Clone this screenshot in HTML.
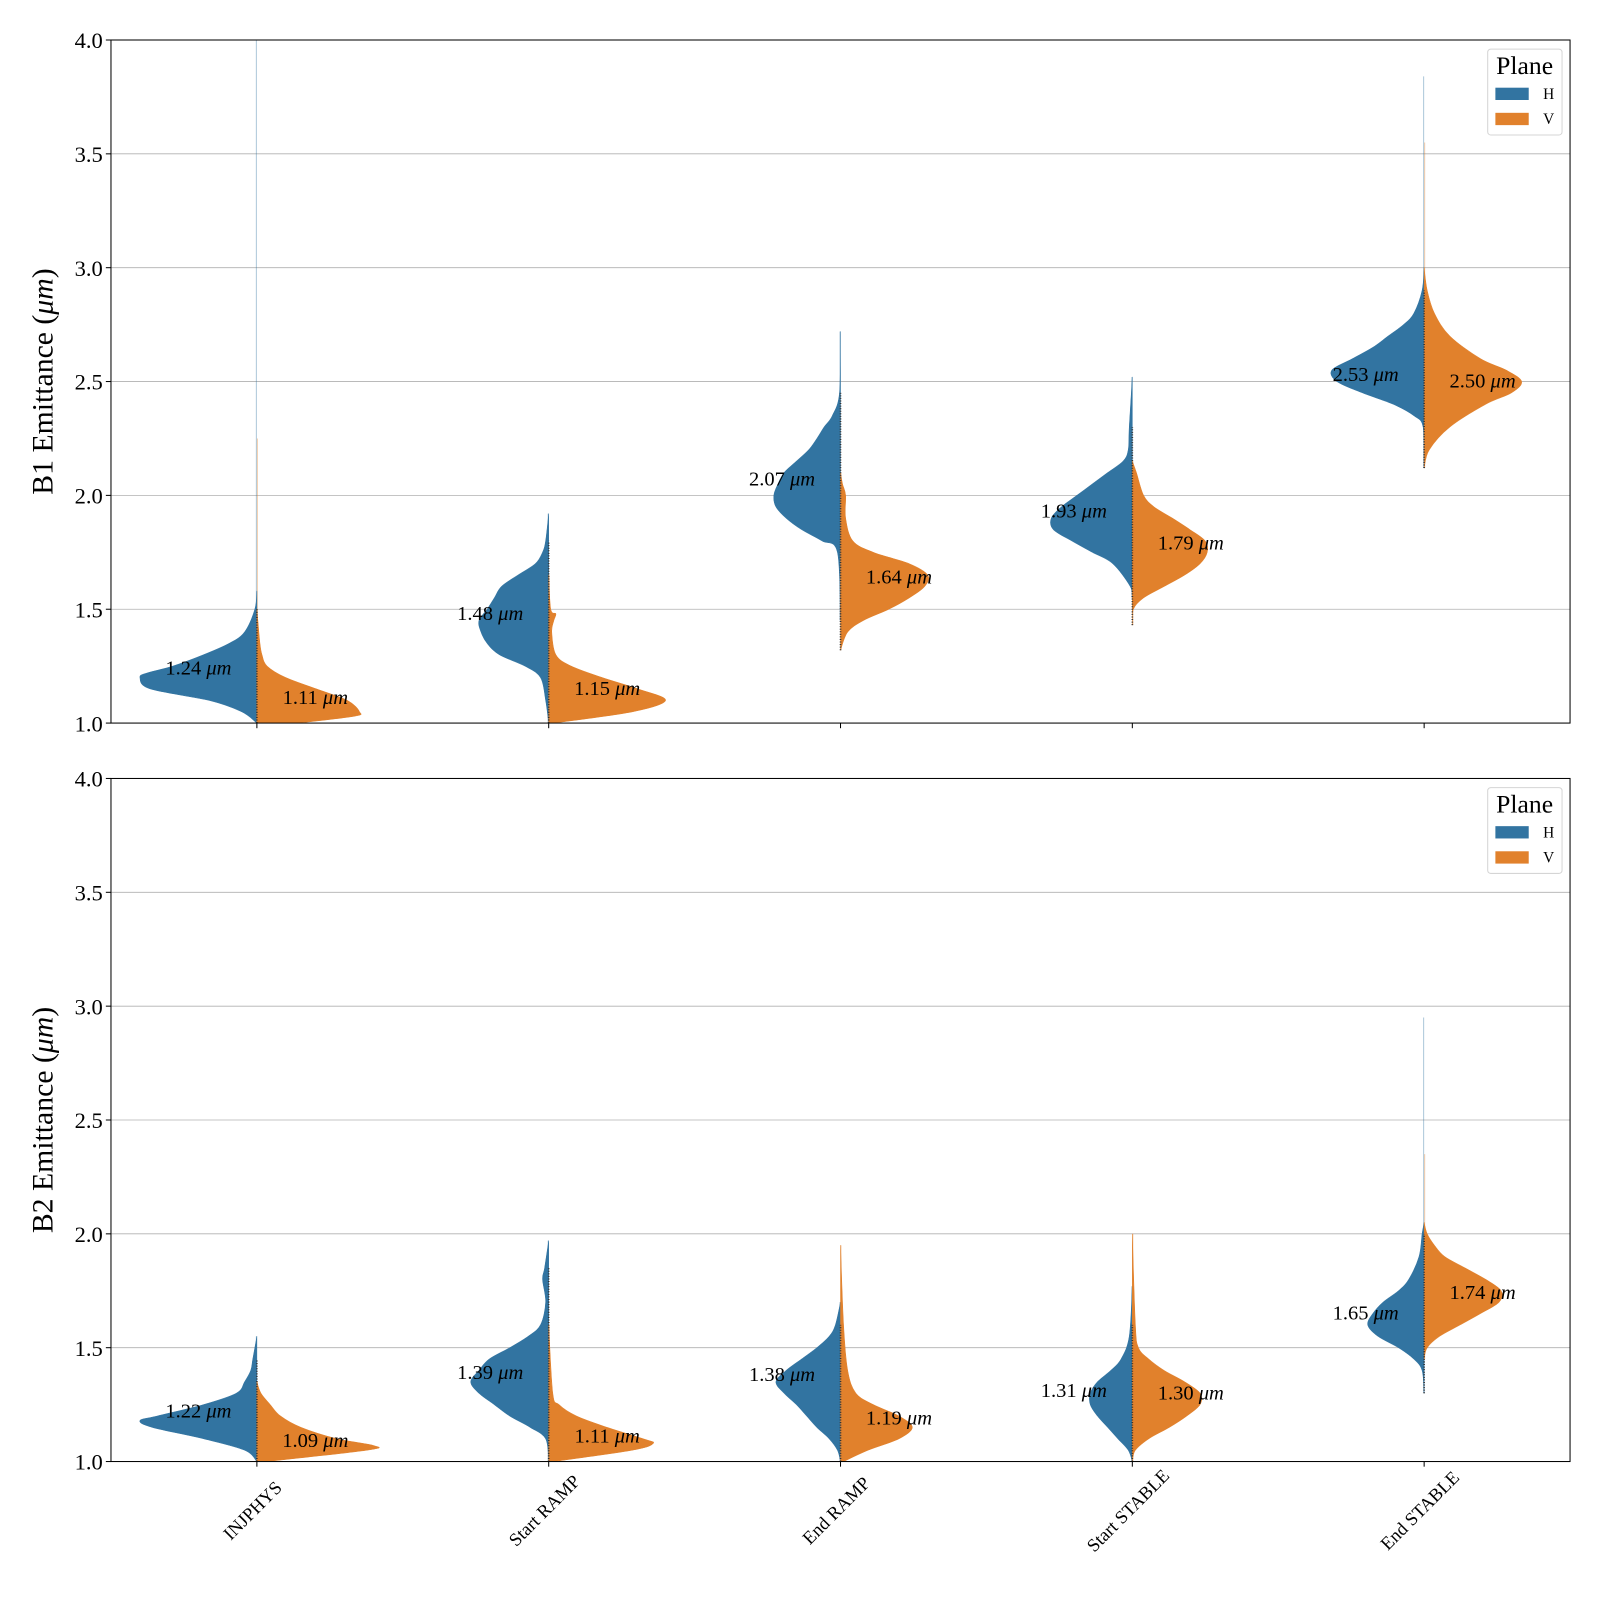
<!DOCTYPE html>
<html><head><meta charset="utf-8"><style>
html,body{margin:0;padding:0;background:#fff}
svg{display:block;font-family:"Liberation Serif",serif}
</style></head><body>
<svg id="chart" width="1600" height="1600" viewBox="0 0 1560 1560" xmlns="http://www.w3.org/2000/svg"></svg>
<script>
const categories = ["INJPHYS","Start RAMP","End RAMP","Start STABLE","End STABLE"];
const panelTitles = ["B1 Emittance (μm)","B2 Emittance (μm)"];
const yTicks = [1.0,1.5,2.0,2.5,3.0,3.5,4.0];
// mean labels [panel][category]
const meanH = [[1.24,1.48,2.07,1.93,2.53],[1.22,1.39,1.38,1.31,1.65]];
const meanV = [[1.11,1.15,1.64,1.79,2.50],[1.09,1.11,1.19,1.30,1.74]];
// density profiles: [value, density(0-120)]
const densH = [
 [
  [[1.0,0],[1.05,15],[1.1,47],[1.15,104],[1.2,114],[1.22,107],[1.25,82],[1.3,52],[1.35,27],[1.4,12],[1.5,2],[1.58,0]],
  [[1.0,0],[1.1,3],[1.2,8],[1.25,23],[1.3,48],[1.35,60],[1.4,66],[1.45,68],[1.5,60],[1.55,53],[1.6,46],[1.65,30],[1.7,13],[1.75,6],[1.8,3],[1.92,0]],
  [[1.45,0],[1.75,3],[1.8,18],[1.85,38],[1.9,53],[1.95,63],[2.0,65],[2.05,61],[2.1,55],[2.15,43],[2.2,31],[2.25,23],[2.3,16],[2.35,8],[2.45,1],[2.72,0]],
  [[1.55,0],[1.6,2],[1.7,19],[1.75,39],[1.8,59],[1.85,77],[1.9,79],[1.95,69],[2.0,54],[2.05,39],[2.1,24],[2.15,9],[2.2,4],[2.3,3],[2.52,0]],
  [[2.12,0],[2.3,1],[2.35,10],[2.4,30],[2.45,60],[2.5,85],[2.55,90],[2.6,70],[2.65,50],[2.7,35],[2.75,20],[2.8,10],[2.9,2],[3.0,0]]
 ],
 [
  [[1.0,0],[1.05,12],[1.1,52],[1.15,102],[1.18,114],[1.2,97],[1.25,52],[1.3,20],[1.35,12],[1.4,6],[1.45,4],[1.55,0]],
  [[1.0,0],[1.1,3],[1.15,18],[1.2,38],[1.25,53],[1.3,68],[1.35,76],[1.4,68],[1.45,58],[1.5,38],[1.55,20],[1.6,8],[1.7,3],[1.8,6],[1.85,4],[1.97,0]],
  [[1.0,0],[1.05,3],[1.1,11],[1.15,23],[1.2,33],[1.25,43],[1.3,55],[1.35,63],[1.4,53],[1.45,38],[1.5,23],[1.55,11],[1.6,5],[1.7,0]],
  [[1.0,0],[1.05,4],[1.1,14],[1.15,24],[1.2,34],[1.25,41],[1.3,41],[1.35,34],[1.4,21],[1.45,11],[1.55,3],[1.77,0]],
  [[1.3,0],[1.4,2],[1.45,10],[1.5,25],[1.55,45],[1.6,55],[1.65,50],[1.7,40],[1.75,25],[1.8,15],[1.9,5],[2.0,2],[2.05,0]]
 ]
];
const densV = [
 [
  [[1.0,40],[1.03,95],[1.05,100],[1.1,88],[1.15,58],[1.2,28],[1.25,10],[1.3,5],[1.35,3],[1.45,1],[1.5,0]],
  [[1.0,5],[1.05,82],[1.1,114],[1.15,87],[1.2,52],[1.25,22],[1.3,7],[1.4,3],[1.45,5],[1.48,7],[1.5,2],[1.65,0]],
  [[1.32,0],[1.4,7],[1.45,22],[1.5,47],[1.55,67],[1.6,82],[1.65,85],[1.7,67],[1.75,32],[1.8,12],[1.9,5],[2.0,5],[2.05,2],[2.1,0]],
  [[1.43,0],[1.5,1],[1.55,11],[1.6,31],[1.65,51],[1.7,66],[1.75,73],[1.8,71],[1.85,56],[1.9,39],[1.95,21],[2.0,11],[2.1,4],[2.15,0]],
  [[2.12,0],[2.2,5],[2.3,25],[2.4,60],[2.45,85],[2.5,95],[2.55,80],[2.6,55],[2.7,25],[2.8,10],[2.9,3],[3.0,0]]
 ],
 [
  [[1.0,10],[1.05,108],[1.07,114],[1.1,78],[1.15,43],[1.2,23],[1.25,13],[1.3,4],[1.35,0]],
  [[1.0,5],[1.05,82],[1.08,102],[1.1,92],[1.15,57],[1.2,27],[1.25,10],[1.3,4],[1.6,0]],
  [[1.0,3],[1.05,27],[1.1,57],[1.15,70],[1.2,57],[1.25,32],[1.3,15],[1.4,7],[1.6,3],[1.95,0]],
  [[1.0,0],[1.05,3],[1.1,16],[1.15,36],[1.2,53],[1.25,66],[1.3,66],[1.35,51],[1.4,31],[1.45,16],[1.5,6],[1.6,3],[2.0,0]],
  [[1.45,0],[1.5,3],[1.55,15],[1.6,35],[1.65,55],[1.7,73],[1.75,75],[1.8,60],[1.85,40],[1.9,20],[1.95,10],[2.0,3],[2.05,0]]
 ]
];
const tailMaxH = [[4.0,1.92,2.72,2.52,3.84],[1.55,1.97,1.7,1.77,2.95]];
const tailMaxV = [[2.25,1.65,2.1,2.15,3.55],[1.35,1.6,1.95,2.0,2.35]];

const svg = document.getElementById('chart');
const NS = 'http://www.w3.org/2000/svg';
const L = 108.2, R = 1530.8;
const panels = [{top:39,bottom:705},{top:759,bottom:1425}];
const BLUE = '#3274a1', ORANGE = '#e1812c';
function mk(tag, attrs, parent){ const e=document.createElementNS(NS,tag); for(const k in attrs) e.setAttribute(k,attrs[k]); (parent||svg).appendChild(e); return e; }
function xScale(i){ return L + (R-L)/categories.length*(i+0.5); }
function yScaleFor(p){ return v => p.bottom - (v-1.0)/(4.0-1.0)*(p.bottom-p.top); }
const densPx = 1.0;
function smoothPath(pts){
  // Catmull-Rom through pts (array of [x,y]) -> cubic bezier segments
  let d = '';
  for (let k=0;k<pts.length-1;k++){
    const p0=pts[Math.max(k-1,0)], p1=pts[k], p2=pts[k+1], p3=pts[Math.min(k+2,pts.length-1)];
    const c1=[p1[0]+(p2[0]-p0[0])/6, p1[1]+(p2[1]-p0[1])/6];
    const c2=[p2[0]-(p3[0]-p1[0])/6, p2[1]-(p3[1]-p1[1])/6];
    d += ` C${c1[0]},${c1[1]} ${c2[0]},${c2[1]} ${p2[0]},${p2[1]}`;
  }
  return d;
}

panels.forEach((p, pi) => {
  const y = yScaleFor(p);
  const g = mk('g', {});
  
  
  yTicks.forEach(t => {
    const gl = mk('line', {x1:L, x2:R, y1:y(t), y2:y(t), stroke:'#b0b0b0', 'stroke-width':0.8}, g);
    
    
    mk('line', {x1:L-5, x2:L, y1:y(t), y2:y(t), stroke:'#000', 'stroke-width':1}, g);
    const tl = mk('text', {x:L-8, y:y(t)+8, 'text-anchor':'end', 'font-size':22}, g);
    tl.textContent = t.toFixed(1);
    
    
  });
  categories.forEach((c, i) => {
    const cx = xScale(i);
    mk('line', {x1:cx, x2:cx, y1:p.bottom, y2:p.bottom+5, stroke:'#000', 'stroke-width':1}, g);
    const th = mk('line', {x1:cx-0.5, x2:cx-0.5, y1:y(densH[pi][i][0][0]), y2:y(tailMaxH[pi][i]), stroke:BLUE, 'stroke-opacity':0.4, 'stroke-width':1}, g);
    
    
    const tv = mk('line', {x1:cx+0.5, x2:cx+0.5, y1:y(densV[pi][i][0][0]), y2:y(tailMaxV[pi][i]), stroke:ORANGE, 'stroke-opacity':0.4, 'stroke-width':1}, g);
    
    
    const dh = densH[pi][i];
    const ph = dh.map(pt => [cx - pt[1]*densPx, y(pt[0])]);
    let d = `M${cx},${y(dh[0][0])} L${ph[0][0]},${ph[0][1]}` + smoothPath(ph) + ` L${cx},${y(dh[dh.length-1][0])} Z`;
    const vh = mk('path', {d:d, fill:BLUE, stroke:BLUE, 'stroke-width':0.5, 'stroke-linejoin':'round'}, g);
    
    
    const dv = densV[pi][i];
    const pv = dv.map(pt => [cx + pt[1]*densPx, y(pt[0])]);
    d = `M${cx},${y(dv[0][0])} L${pv[0][0]},${pv[0][1]}` + smoothPath(pv) + ` L${cx},${y(dv[dv.length-1][0])} Z`;
    const vv = mk('path', {d:d, fill:ORANGE, stroke:ORANGE, 'stroke-width':0.5, 'stroke-linejoin':'round'}, g);
    
    
    const lo = Math.min(dh[0][0], dv[0][0]);
    const hi = Math.max(dh[dh.length-2][0], dv[dv.length-2][0]);
    const st = mk('line', {x1:cx, x2:cx, y1:y(lo), y2:y(hi), stroke:'#333', 'stroke-width':1.6, 'stroke-dasharray':'1 1.5'}, g);
    
    
    const lh = mk('text', {x:cx-57, y:y(meanH[pi][i])+6, 'text-anchor':'middle', 'font-size':20}, g);
    lh.innerHTML = meanH[pi][i].toFixed(2) + ' <tspan font-style="italic">μm</tspan>';
    
    
    const lv = mk('text', {x:cx+57, y:y(meanV[pi][i])+6, 'text-anchor':'middle', 'font-size':20}, g);
    lv.innerHTML = meanV[pi][i].toFixed(2) + ' <tspan font-style="italic">μm</tspan>';
    
    
    if (pi === 1) {
      const lx = cx, ly = p.bottom + 52;
      const xl = mk('text', {x:lx, y:ly, 'text-anchor':'middle', 'font-size':18, transform:`rotate(-45 ${lx} ${ly})`}, g);
      xl.textContent = c;
      
      
    }
  });
  const fr = mk('rect', {x:L, y:p.top, width:R-L, height:p.bottom-p.top, fill:'none', stroke:'#000', 'stroke-width':1}, g);
  
  
  const mid = (p.top+p.bottom)/2;
  const yt = mk('text', {x:51, y:mid, 'text-anchor':'middle', 'font-size':29, transform:`rotate(-90 51 ${mid})`}, g);
  yt.innerHTML = panelTitles[pi].replace('(μm)', '(<tspan font-style="italic">μm</tspan>)');
  
  
  const lg = mk('g', {transform:`translate(0 ${p.top-39})`}, g);
  
  
  mk('rect', {x:1450.5, y:47.9, width:72.5, height:83.7, rx:3, fill:'#fff', 'fill-opacity':0.8, stroke:'#d5d5d5', 'stroke-width':1}, lg);
  const lt = mk('text', {x:1486.5, y:72, 'text-anchor':'middle', 'font-size':25}, lg);
  lt.textContent = 'Plane';
  
  
  [['H',BLUE,85.5],['V',ORANGE,110]].forEach(e => {
    const pr = mk('rect', {x:1458, y:e[2], width:32.5, height:12, fill:e[1]}, lg);
    
    
    const et = mk('text', {x:1510, y:e[2]+11, 'text-anchor':'middle', 'font-size':15}, lg);
    et.textContent = e[0];
  });
});
</script>
</body></html>
